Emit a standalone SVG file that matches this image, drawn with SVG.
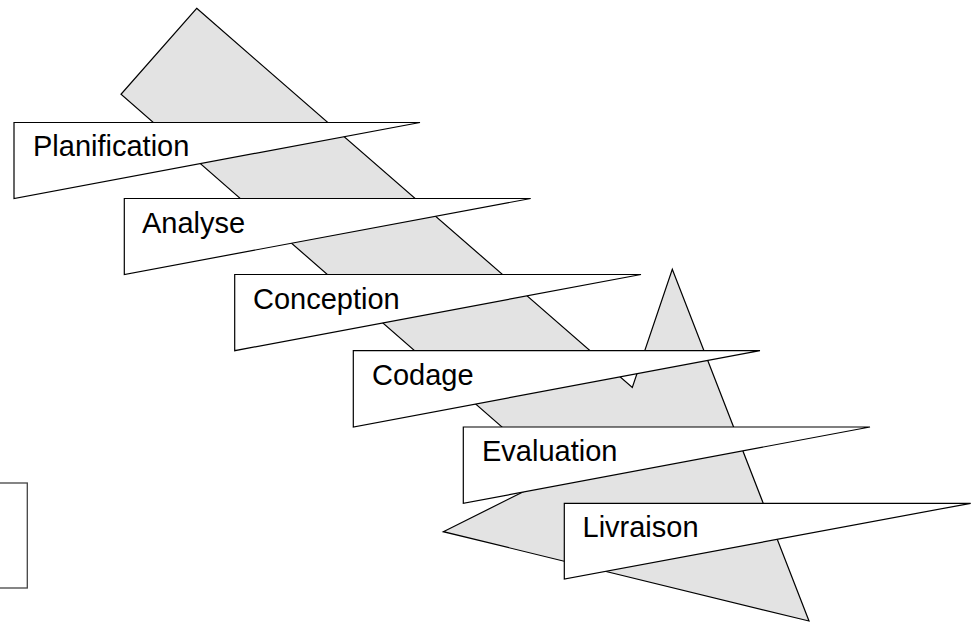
<svg xmlns="http://www.w3.org/2000/svg" width="975" height="622" viewBox="0 0 975 622">
  <style>
    .arrow { fill: #e3e3e3; stroke: #000; stroke-width: 1.2; stroke-linejoin: miter; }
    .flag { fill: #fff; stroke: #000; stroke-width: 1.2; }
    .label { font-family: "Liberation Sans", Arial, sans-serif; font-size: 29px; fill: #000; }
    .frame { fill: none; stroke: #444; stroke-width: 1.3; }
  </style>

  <rect width="975" height="622" fill="#fff"/>

  <!-- partial frame at the left edge -->
  <rect class="frame" x="-10" y="483" width="37.3" height="105"/>

  <!-- big bent arrow behind the phases -->
  <g id="process-arrow">
    <polygon class="arrow" points="196.7,8.3 632.3,387.5 672.3,269.3 809,621 443.3,531.7 557,475 121,94.3"/>
  </g>

  <!-- phase flags -->
  <g id="planification">
    <polygon class="flag" points="14,122.5 420,122.5 14,198.5"/>
    <text class="label" x="33" y="156">Planification</text>
  </g>
  <g id="analyse">
    <polygon class="flag" points="124.3,198.5 530.7,198.5 124.3,274.5"/>
    <text class="label" x="142" y="233">Analyse</text>
  </g>
  <g id="conception">
    <polygon class="flag" points="234.7,274.5 641,274.5 234.7,350.7"/>
    <text class="label" x="253" y="309">Conception</text>
  </g>
  <g id="codage">
    <polygon class="flag" points="353.3,350.7 760,350.7 353.3,427"/>
    <text class="label" x="372" y="385">Codage</text>
  </g>
  <g id="evaluation">
    <polygon class="flag" points="463.3,427 870,427 463.3,503.3"/>
    <text class="label" x="482" y="461">Evaluation</text>
  </g>
  <g id="livraison">
    <polygon class="flag" points="564.3,503.3 970.7,503.3 564.3,579"/>
    <text class="label" x="582.5" y="537">Livraison</text>
  </g>
</svg>
